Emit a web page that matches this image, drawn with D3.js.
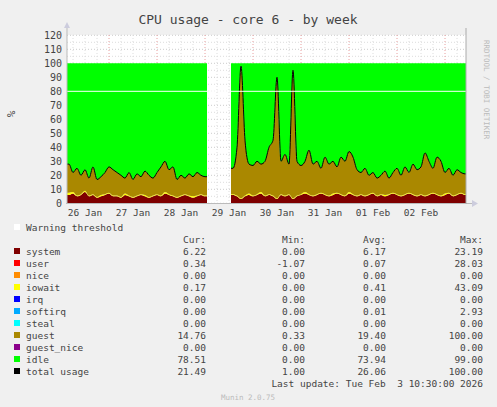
<!DOCTYPE html><html><head><meta charset="utf-8"><script src="https://cdn.jsdelivr.net/npm/d3@7"></script>
<style>body{margin:0;background:#f0f0f0}text{font-family:"DejaVu Sans Mono",monospace}</style></head><body><svg id="c" width="497" height="407"></svg>
<script>
const yTicks=[0,10,20,30,40,50,60,70,80,90,100,110,120];
const dayLabels=["26 Jan","27 Jan","28 Jan","29 Jan","30 Jan","31 Jan","01 Feb","02 Feb"];
// 2-hour samples from 26 Jan 03:00; null = no data
const total=[28,22,25,20,24,18,26,17,19,22,26,24,22,20,18,22,17,21,19,23,20,18,22,26,30,24,26,17,20,18,21,19,22,20,19,null,null,null,null,null,null,25,40,98,45,28,27,30,28,30,40,45,90,30,35,28,95,30,27,30,38,28,30,25,33,28,30,26,33,30,37,33,24,22,25,20,22,18,20,23,18,22,25,20,26,22,28,24,26,36,30,25,33,30,22,25,20,24,22,21];
const system=[6,7,5,6,8,5,6,4,5,6,7,5,5,4,6,5,4,5,6,5,4,5,6,5,7,6,5,4,5,6,5,4,5,6,5,null,null,null,null,null,null,6,5,3,5,6,5,6,7,5,6,5,3,6,5,6,3,5,6,7,6,5,6,7,6,5,6,7,6,5,7,6,5,6,5,6,7,5,6,5,6,7,6,5,6,7,6,5,6,5,6,7,6,5,6,7,5,6,7,6];
const iowait=[1.5,1,0.5,0.5,1,0.5,0.5,0.5,1,0.5,0.5,0.5,0.5,0.5,1,0.5,0.5,0.5,0.5,1,0.5,0.5,0.5,0.5,1,0.5,0.5,0.5,0.5,0.5,0.5,1,0.5,0.5,0.5,null,null,null,null,null,null,0.5,0.5,0.5,0.5,1,0.5,0.5,1,0.5,0.5,0.5,0.5,0.5,0.5,0.5,0.5,0.5,0.5,1,0.5,0.5,0.5,0.5,0.5,0.5,1,0.5,0.5,0.5,1,0.5,0.5,0.5,0.5,0.5,0.5,0.5,0.5,1,0.5,0.5,0.5,0.5,0.5,0.5,0.5,0.5,0.5,0.5,0.5,0.5,0.5,0.5,1,0.5,0.5,0.5,0.5,0.5];
const legendNames=["system","user","nice","iowait","irq","softirq","steal","guest","guest_nice","idle","total usage"];
const legendColors=["#7f0000","#ff0000","#ff8c00","#ffff00","#0000ff","#00aaff","#00ffff","#aa8800","#8b008b","#00ff00","#000000"];
const cur=["6.22","0.34","0.00","0.17","0.00","0.00","0.00","14.76","0.00","78.51","21.49"];
const mins=["0.00","-1.07","0.00","0.00","0.00","0.00","0.00","0.33","0.00","0.00","1.00"];
const avgs=["6.17","0.07","0.00","0.41","0.00","0.01","0.00","19.40","0.00","73.94","26.06"];
const maxs=["23.19","28.03","0.00","43.09","0.00","2.93","0.00","100.00","0.00","99.00","100.00"];

const svg=d3.select("#c");
const t0=new Date(2026,0,26,3), t1=new Date(2026,1,3,10,30);
const x=d3.scaleTime().domain([t0,t1]).range([67,466]);
const y=d3.scaleLinear().domain([0,120]).range([203.3,35.3]);
svg.append("rect").attr("x",67).attr("y",35).attr("width",399).attr("height",168).attr("fill","#fff");
const g=svg.append("g");
d3.range(0,125,5).forEach(v=>g.append("line").attr("x1",67).attr("x2",466).attr("y1",y(v)).attr("y2",y(v)).attr("stroke",v%10?"#ddd":"#ccc").attr("stroke-dasharray","1,2"));
const hours=d3.timeHour.every(6).range(t0,t1);
hours.forEach(h=>g.append("line").attr("x1",x(h)).attr("x2",x(h)).attr("y1",35).attr("y2",203).attr("stroke",h.getHours()==0?"#e8a0a0":"#ddd").attr("stroke-dasharray","1,2"));
const times=total.map((_,i)=>new Date(+t0+i*2*3600e3+3600e3));
const segs=[];let cs=[];
times.forEach((t,i)=>{if(total[i]==null){if(cs.length)segs.push(cs);cs=[];}else cs.push({t,s:system[i],io:iowait[i],tot:total[i]});});
if(cs.length)segs.push(cs);
segs.forEach((sg,k)=>{
  const first={...sg[0],t:k==0?t0:new Date(+sg[0].t-3600e3)};
  const last={...sg[sg.length-1],t:k==segs.length-1?t1:new Date(+sg[sg.length-1].t+3600e3)};
  const d=[first,...sg,last];
  const a=(lo,hi,c)=>svg.append("path").datum(d).attr("fill",c).attr("d",d3.area().curve(d3.curveMonotoneX).x(p=>x(p.t)).y0(p=>y(lo(p))).y1(p=>y(hi(p))));
  a(p=>0,p=>p.s,"#7f0000");
  a(p=>p.s,p=>p.s+p.io,"#ffff00");
  a(p=>p.s+p.io,p=>p.tot,"#aa8800");
  a(p=>p.tot,p=>100,"#00ff00");
  svg.append("path").datum(d).attr("fill","none").attr("stroke","#000").attr("stroke-width",1).attr("d",d3.line().curve(d3.curveMonotoneX).x(p=>x(p.t)).y(p=>y(p.tot)));
});
svg.append("line").attr("x1",67).attr("x2",466).attr("y1",y(80)).attr("y2",y(80)).attr("stroke","#fff");
svg.append("line").attr("x1",67).attr("x2",67).attr("y1",28).attr("y2",204).attr("stroke","#bbb");
svg.append("line").attr("x1",66).attr("x2",472).attr("y1",203.5).attr("y2",203.5).attr("stroke","#bbb");
svg.append("line").attr("x1",466).attr("x2",466).attr("y1",28).attr("y2",204).attr("stroke","#aaa");
svg.append("path").attr("d","M64,28 L67,22 L70,28Z").attr("fill","#ccd");
svg.append("path").attr("d","M472,200 L478,203.5 L472,207Z").attr("fill","#ccd");
yTicks.forEach(v=>svg.append("text").attr("x",62).attr("y",y(v)+3.5).attr("text-anchor","end").attr("font-size",10).attr("fill","#444").attr("font-family","DejaVu Sans").text(v));
dayLabels.forEach((l,i)=>svg.append("text").attr("x",x(new Date(2026,0,26+i,12))).attr("y",216).attr("text-anchor","middle").attr("font-size",9.5).attr("fill","#444").attr("font-family","DejaVu Sans").text(l));
svg.append("text").attr("x",248).attr("y",24).attr("text-anchor","middle").attr("font-size",13).attr("fill","#444").attr("font-family","DejaVu Sans").text("CPU usage - core 6 - by week");
svg.append("text").attr("transform","translate(15,114) rotate(-90)").attr("text-anchor","middle").attr("font-size",11).attr("fill","#444").attr("font-family","DejaVu Sans").text("%");
svg.append("text").attr("transform","translate(484,40) rotate(90)").attr("font-size",7.5).attr("fill","#bbb").attr("font-family","DejaVu Sans").text("RRDTOOL / TOBI OETIKER");
const fs=9.5;
svg.append("rect").attr("x",14).attr("y",224).attr("width",6).attr("height",6).attr("fill","#fff");
svg.append("text").attr("x",26).attr("y",231).attr("font-size",fs).attr("fill","#444").text("Warning threshold");
[["Cur:",206],["Min:",305],["Avg:",386],["Max:",483]].forEach(([h,xx])=>svg.append("text").attr("x",xx).attr("y",243).attr("text-anchor","end").attr("font-size",fs).attr("fill","#444").text(h));
legendNames.forEach((n,i)=>{
  const yy=255+i*12;
  svg.append("rect").attr("x",14).attr("y",yy-7).attr("width",6).attr("height",6).attr("fill",legendColors[i]);
  svg.append("text").attr("x",26).attr("y",yy).attr("font-size",fs).attr("fill","#444").text(n);
  [[cur,206],[mins,305],[avgs,386],[maxs,483]].forEach(([arr,xx])=>svg.append("text").attr("x",xx).attr("y",yy).attr("text-anchor","end").attr("font-size",fs).attr("fill","#444").text(arr[i]));
});
svg.append("text").attr("x",483).attr("y",387).attr("text-anchor","end").attr("font-size",fs).attr("fill","#444").attr("xml:space","preserve").text("Last update: Tue Feb  3 10:30:00 2026");
svg.append("text").attr("x",248).attr("y",400).attr("text-anchor","middle").attr("font-size",7.5).attr("fill","#bbb").attr("font-family","DejaVu Sans").text("Munin 2.0.75");
</script></body></html>
